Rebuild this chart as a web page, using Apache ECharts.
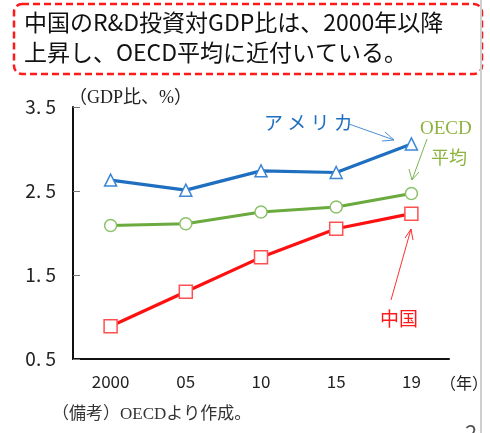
<!DOCTYPE html>
<html><head><meta charset="utf-8">
<script src="https://cdn.jsdelivr.net/npm/echarts@6/dist/echarts.min.js"></script>
<style>html,body{margin:0;padding:0;background:#fff}#c{width:490px;height:433px}</style>
</head><body><div id="c"></div>
<script>
const categories = ['2000', '05', '10', '15', '19'];
const usa = [2.63, 2.51, 2.74, 2.72, 3.06];
const oecd = [2.09, 2.11, 2.25, 2.31, 2.47];
const china = [0.89, 1.30, 1.71, 2.05, 2.23];
const yTicks = [0.5, 1.5, 2.5, 3.5];

const JP = '"Noto Sans CJK JP", "Liberation Sans", sans-serif';
const SERIF = '"Liberation Serif", "DejaVu Serif", "Noto Sans CJK JP", serif';

const chart = echarts.init(document.getElementById('c'));
chart.setOption({
  animation: false,
  backgroundColor: '#fff',
  grid: { left: 73, right: 41, top: 107, bottom: 74 },
  xAxis: {
    type: 'category', data: categories, boundaryGap: true,
    axisLine: { lineStyle: { color: '#111', width: 2 } },
    axisTick: { show: false },
    axisLabel: { color: '#222', fontSize: 17, fontFamily: JP, margin: 14 }
  },
  yAxis: {
    type: 'value', min: 0.5, max: 3.5, interval: 1,
    axisLine: { show: true, lineStyle: { color: '#111', width: 2 } },
    axisTick: { show: true, inside: true, length: 7, lineStyle: { color: '#777' } },
    splitLine: { show: false },
    axisLabel: { color: '#222', fontSize: 19, fontFamily: JP, margin: 17,
      formatter: v => yTicks.includes(v) ? v.toFixed(1).replace('.', '. ') : '' }
  },
  series: [
    { name: 'アメリカ', type: 'line', data: usa, symbol: 'triangle', symbolSize: 12,
      lineStyle: { color: '#1f6fc1', width: 3.2 },
      itemStyle: { color: '#fff', borderColor: '#3b86d6', borderWidth: 1.5 } },
    { name: 'OECD平均', type: 'line', data: oecd, symbol: 'circle', symbolSize: 12,
      lineStyle: { color: '#6aaa3e', width: 3 },
      itemStyle: { color: '#fff', borderColor: '#8cc26a', borderWidth: 1.5 } },
    { name: '中国', type: 'line', data: china, symbol: 'rect', symbolSize: 13,
      lineStyle: { color: '#ff1010', width: 3.2 },
      itemStyle: { color: '#fff', borderColor: '#ff5050', borderWidth: 1.5 } }
  ],
  graphic: [
    { type: 'rect', shape: { x: 14, y: 4, width: 468, height: 70, r: 8 },
      style: { fill: 'none', stroke: '#ff1a1a', lineWidth: 2.5, lineDash: [7, 4] } },
    { type: 'text', left: 24, top: 11, style: { text: '中国のR&D投資対GDP比は、2000年以降', fill: '#111', font: '23px ' + JP } },
    { type: 'text', left: 24, top: 41, style: { text: '上昇し、OECD平均に近付いている。', fill: '#111', font: '23px ' + JP } },
    { type: 'text', left: 69, top: 89, style: { text: '（GDP比、%）', fill: '#222', font: '18px ' + SERIF } },
    { type: 'text', left: 440, top: 375, style: { text: '（年）', fill: '#222', font: '16px ' + JP } },
    { type: 'text', left: 52, top: 406, style: { text: '（備考）OECDより作成。', fill: '#333', font: '17px ' + SERIF } },
    { type: 'text', left: 264, top: 113, style: { text: 'ア メ リ カ', fill: '#1f6fc1', font: '19px ' + JP } },
    { type: 'line', shape: { x1: 349, y1: 124, x2: 394, y2: 140 }, style: { stroke: '#4a8fd8', lineWidth: 1 } },
    { type: 'polyline', shape: { points: [[385, 132], [394, 140], [382, 141]] }, style: { stroke: '#4a8fd8', lineWidth: 1, fill: 'none' } },
    { type: 'text', left: 420, top: 120, style: { text: 'OECD', fill: '#8db33f', font: '19px ' + SERIF } },
    { type: 'text', left: 431, top: 148, style: { text: '平均', fill: '#8db33f', font: '18px ' + JP } },
    { type: 'line', shape: { x1: 427, y1: 139, x2: 412, y2: 180 }, style: { stroke: '#7fb456', lineWidth: 1 } },
    { type: 'polyline', shape: { points: [[409, 169], [412, 180], [419, 172]] }, style: { stroke: '#7fb456', lineWidth: 1, fill: 'none' } },
    { type: 'text', left: 380, top: 309, style: { text: '中国', fill: '#ff1a1a', font: '19px ' + JP } },
    { type: 'line', shape: { x1: 391, y1: 300, x2: 411, y2: 229 }, style: { stroke: '#ff3030', lineWidth: 1 } },
    { type: 'polyline', shape: { points: [[405, 238], [411, 229], [413, 240]] }, style: { stroke: '#ff3030', lineWidth: 1, fill: 'none' } },
    { type: 'rect', shape: { x: 480, y: 0, width: 2, height: 433 }, style: { fill: '#cfcfcf' } },
    { type: 'text', left: 465, top: 422, style: { text: '2', fill: '#555', font: '22px ' + JP } }
  ]
});
</script></body></html>
